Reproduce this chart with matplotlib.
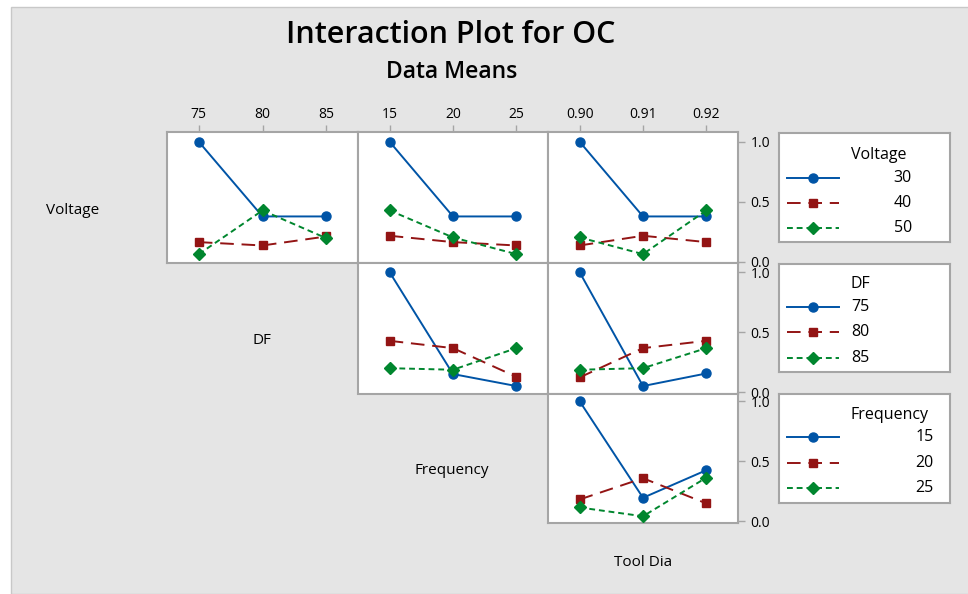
import matplotlib
matplotlib.use("Agg")
import matplotlib.pyplot as plt
from matplotlib.patches import Rectangle
from matplotlib.lines import Line2D

plt.rcParams['font.family'] = ['Open Sans', 'DejaVu Sans']

# factor levels
voltage_levels = ["30", "40", "50"]
df_levels = ["75", "80", "85"]
freq_levels = ["15", "20", "25"]
tool_levels = ["0.90", "0.91", "0.92"]

# OC means, one row per trace level
oc_df_by_voltage = [[1.0, 0.378, 0.378], [0.164, 0.136, 0.211], [0.064, 0.428, 0.197]]
oc_freq_by_voltage = [[1.0, 0.378, 0.378], [0.217, 0.164, 0.136], [0.428, 0.203, 0.064]]
oc_tool_by_voltage = [[1.0, 0.378, 0.378], [0.136, 0.217, 0.164], [0.203, 0.064, 0.428]]
oc_freq_by_df = [[1.0, 0.152, 0.052], [0.429, 0.368, 0.129], [0.201, 0.188, 0.368]]
oc_tool_by_df = [[1.0, 0.052, 0.157], [0.124, 0.368, 0.429], [0.188, 0.201, 0.368]]
oc_tool_by_freq = [[1.0, 0.196, 0.426], [0.182, 0.359, 0.149], [0.115, 0.042, 0.364]]

W, H = 968, 594
colors = ["#0054A6", "#931414", "#00862E"]
markers = ["o", "s", "D"]
msizes = [6.5, 6, 6.5]
dashes = [None, (7, 4), (3, 2)]
frame = "#A5A5A5"

fig = plt.figure(figsize=(W / 100, H / 100), dpi=100)
fig.patch.set_facecolor("white")
fig.patches.append(Rectangle((11 / W, 0), 1, 1 - 7 / H, transform=fig.transFigure,
                             facecolor="#E5E5E5", edgecolor="#C8C8C8", lw=1, zorder=-10))


def px_axes(x0, y0, x1, y1):
    return fig.add_axes([x0 / W, 1 - y1 / H, (x1 - x0) / W, (y1 - y0) / H])


col_x = [167, 358, 548, 738]
row_y = [132, 263, 393.5, 522.5]

panels = {
    (0, 0): oc_df_by_voltage, (0, 1): oc_freq_by_voltage, (0, 2): oc_tool_by_voltage,
    (1, 1): oc_freq_by_df, (1, 2): oc_tool_by_df,
    (2, 2): oc_tool_by_freq,
}
col_levels = [df_levels, freq_levels, tool_levels]

for (r, c), data in panels.items():
    ax = px_axes(col_x[c], row_y[r], col_x[c + 1], row_y[r + 1])
    ax.set_facecolor("white")
    for i, series in enumerate(data):
        ln, = ax.plot(range(3), series, color=colors[i], marker=markers[i],
                      markersize=msizes[i], lw=1.4, zorder=3 + i)
        if dashes[i]:
            ln.set_dashes(dashes[i])
    ax.set_xlim(-0.5, 2.5)
    h = row_y[r + 1] - row_y[r]
    ax.set_ylim(-1.2 / 120, (h - 1.2) / 120)
    for s in ax.spines.values():
        s.set_color(frame)
        s.set_linewidth(1.5)
    if r == 0:
        ax.xaxis.tick_top()
        ax.set_xticks(range(3))
        ax.set_xticklabels(col_levels[c])
        ax.tick_params(axis="x", length=5, width=1, color=frame, labelsize=10, pad=2)
    else:
        ax.set_xticks([])
    if c == 2:
        ax.yaxis.tick_right()
        ax.set_yticks([0.0, 0.5, 1.0])
        ax.set_yticklabels(["0.0", "0.5", "1.0"])
        ax.tick_params(axis="y", length=5, width=1, color=frame, labelsize=10, pad=4)
    else:
        ax.set_yticks([])

# factor names
fig.text(73 / W, 1 - 210 / H, "Voltage", ha="center", va="center", fontsize=11)
fig.text(262 / W, 1 - 340 / H, "DF", ha="center", va="center", fontsize=11)
fig.text(452 / W, 1 - 471 / H, "Frequency", ha="center", va="center", fontsize=11)
fig.text(643 / W, 1 - 562 / H, "Tool Dia", ha="center", va="center", fontsize=11)

# titles
fig.text(451 / W, 1 - 35 / H, "Interaction Plot for OC", ha="center", va="center",
         fontsize=22, fontweight="semibold")
fig.text(452 / W, 1 - 72 / H, "Data Means", ha="center", va="center", fontsize=16.5,
         fontweight="semibold")

# legends
legends = [
    ("Voltage", voltage_levels, 133, 242, "right", 912, [155, 178, 203, 228]),
    ("DF", df_levels, 264, 372, "left", 851, [284, 307, 332, 358]),
    ("Frequency", freq_levels, 394, 503, "right", 934, [415, 437, 463, 488]),
]
for title, labels, y0, y1, align, tx, ys in legends:
    lax = px_axes(779, y0, 950, y1)
    lax.set_xlim(779, 950)
    lax.set_ylim(y1, y0)
    lax.set_xticks([])
    lax.set_yticks([])
    lax.set_facecolor("white")
    for s in lax.spines.values():
        s.set_color(frame)
        s.set_linewidth(1.5)
    lax.text(851, ys[0], title, ha="left", va="center", fontsize=11.5)
    for i, lab in enumerate(labels):
        yy = ys[i + 1]
        ln = Line2D([787, 839], [yy, yy], color=colors[i], lw=1.4)
        if dashes[i]:
            ln.set_dashes(dashes[i])
        lax.add_line(ln)
        lax.plot([813], [yy], marker=markers[i], color=colors[i], markersize=msizes[i])
        lax.text(tx, yy, lab, ha=align, va="center", fontsize=11.5)

fig.savefig("out.png", dpi=100, facecolor=fig.get_facecolor())
